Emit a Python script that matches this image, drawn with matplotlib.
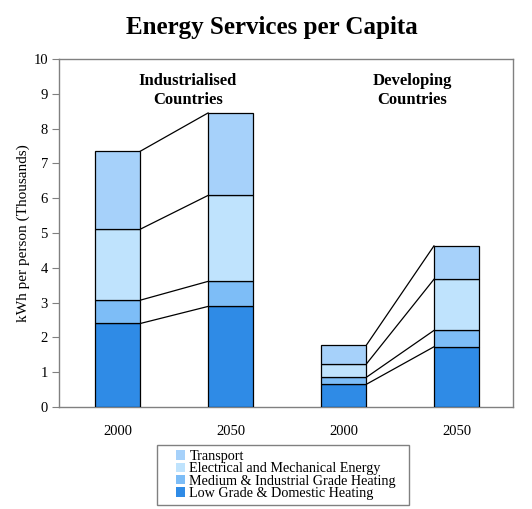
import numpy as np
import matplotlib.pyplot as plt
from matplotlib.patches import Rectangle

plt.rcParams['font.family'] = ['Liberation Serif', 'DejaVu Serif']

# data (thousand kWh per person)
years = ["2000", "2050", "2000", "2050"]
groups = ["Industrialised\nCountries", "Developing\nCountries"]
series = ["Low Grade & Domestic Heating", "Medium & Industrial Grade Heating",
          "Electrical and Mechanical Energy", "Transport"]
low_grade = [2.40, 2.89, 0.65, 1.73]
medium_grade = [0.67, 0.72, 0.20, 0.47]
electrical = [2.04, 2.47, 0.38, 1.47]
transport = [2.24, 2.37, 0.54, 0.96]

colors = ["#2F8BE6", "#7DBDF7", "#BFE3FD", "#A6D1FA"]

fig = plt.figure(figsize=(5.32, 5.09), dpi=100)
ax = fig.add_axes([59 / 532, 1 - 407 / 509, 454 / 532, 348 / 509])

x = np.arange(len(years))
width = 0.40
layers = [low_grade, medium_grade, electrical, transport]
bottom = np.zeros(len(years))
tops = []
handles = []
for vals, col, name in zip(layers, colors, series):
    vals = np.array(vals)
    b = ax.bar(x, vals, width, bottom=bottom, color=col, edgecolor="black",
               linewidth=0.9, label=name, zorder=3)
    handles.append(b)
    bottom = bottom + vals
    tops.append(bottom.copy())

# connector lines between 2000 and 2050 within each group
for level in tops:
    for i in (0, 2):
        ax.plot([x[i] + width / 2, x[i + 1] - width / 2], [level[i], level[i + 1]],
                color="black", linewidth=0.9, zorder=2)

ax.set_xlim(-0.52, 3.5)
ax.set_ylim(0, 10)
ax.set_yticks(range(0, 11))
ax.set_xticks(x)
ax.set_xticklabels(years, fontsize=10.5)
ax.tick_params(axis="x", length=0, pad=13)
ax.tick_params(axis="y", length=5, color="#808080", labelsize=10.5, pad=3)
for s in ax.spines.values():
    s.set_color("#808080")
    s.set_linewidth(1.0)
ax.set_ylabel("kWh per person (Thousands)", fontsize=11, labelpad=2)

ax.text(0.62, 9.6, groups[0], ha="center", va="top", fontsize=12,
        fontweight="bold", linespacing=1.25)
ax.text(2.61, 9.6, groups[1], ha="center", va="top", fontsize=12,
        fontweight="bold", linespacing=1.25)

fig.suptitle("Energy Services per Capita", fontsize=18, fontweight="bold",
             x=272 / 532, y=0.968)

# legend box drawn separately so the inner padding matches
fig.patches.append(Rectangle((157 / 532, 1 - 505 / 509), 252 / 532, 60 / 509,
                             transform=fig.transFigure, facecolor="white",
                             edgecolor="#808080", linewidth=1.0, zorder=-1))
leg = ax.legend(handles[::-1], series[::-1], loc="upper left",
                bbox_to_anchor=(176 / 532, 1 - 450 / 509), bbox_transform=fig.transFigure,
                fontsize=10.2, frameon=False,
                handlelength=0.65, handleheight=0.65, handletextpad=0.3,
                labelspacing=-0.05, borderpad=0, borderaxespad=0)
for h in leg.legend_handles:
    h.set_edgecolor("none")

fig.savefig("out.png", dpi=100)
